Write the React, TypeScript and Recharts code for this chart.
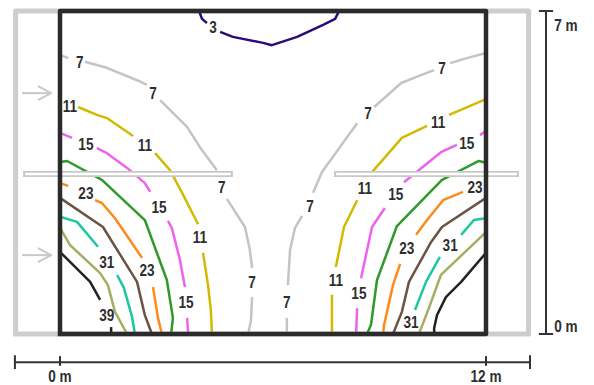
import { ScatterChart, Scatter, XAxis, YAxis } from "recharts";

type Seg = number[][];

// contour lines in metres [x, y]; each line is split where its value label sits
const c3: Seg[] = [
  [[3.92, 7.0], [4.0, 6.83], [4.14, 6.74]],
  [[4.51, 6.55], [4.87, 6.44], [5.72, 6.31], [5.97, 6.26], [6.68, 6.44], [7.41, 6.7], [7.75, 6.83], [7.86, 7.0]],
];
const c7: Seg[] = [
  [[0, 6.05], [0.23, 5.98]],
  [[0.7, 5.9], [1.32, 5.77], [2.17, 5.5], [2.45, 5.4]],
  [[2.82, 5.07], [3.58, 4.49], [3.94, 4.05], [4.42, 3.55]],
  [[4.7, 2.93], [4.85, 2.75], [5.21, 2.32], [5.35, 1.82], [5.41, 1.43]],
  [[5.41, 0.8], [5.38, 0.3], [5.3, 0]],
  [[12, 6.09], [11.46, 5.98], [10.99, 5.87]],
  [[10.54, 5.72], [10.17, 5.61], [9.61, 5.44], [8.85, 4.92]],
  [[8.37, 4.57], [7.38, 3.51], [7.13, 3.06]],
  [[6.82, 2.56], [6.62, 2.3], [6.48, 1.82], [6.42, 1.06]],
  [[6.39, 0.35], [6.39, 0]],
];
const c11: Seg[] = [
  [[0.51, 4.92], [1.04, 4.75], [1.32, 4.68], [2.06, 4.29]],
  [[2.68, 3.92], [3.1, 3.55], [3.44, 3.06], [3.89, 2.38]],
  [[4.03, 1.76], [4.17, 1.06], [4.25, 0.52], [4.28, 0]],
  [[12, 5.09], [10.96, 4.75]],
  [[10.34, 4.51], [9.63, 4.25], [8.79, 3.51]],
  [[8.37, 2.9], [8.0, 2.32], [7.77, 1.45]],
  [[7.66, 0.85], [7.66, 0]],
];
const c15: Seg[] = [
  [[0, 4.36], [0.34, 4.25]],
  [[1.04, 4.03], [1.32, 3.92], [1.89, 3.6], [2.39, 3.27], [2.54, 3.08]],
  [[3.04, 2.45], [3.15, 2.3], [3.38, 1.6], [3.52, 1.02]],
  [[3.58, 0.35], [3.61, 0]],
  [[12, 4.4], [11.83, 4.31]],
  [[11.18, 4.1], [10.73, 3.94], [9.69, 3.29]],
  [[9.15, 2.73], [8.79, 2.32], [8.48, 1.21]],
  [[8.37, 0.56], [8.34, 0]],
];
const c19: Seg[] = [
  [[0, 3.73], [0.2, 3.75], [1.18, 3.34], [2.39, 2.47], [3.01, 1.17], [3.18, 0.35], [3.13, 0]],
  [[12, 3.71], [11.8, 3.75], [10.76, 3.34], [9.49, 2.34], [8.93, 1.17], [8.76, 0.2], [8.65, 0]],
];
const c23: Seg[] = [
  [[0, 3.27], [0.23, 3.21]],
  [[0.99, 2.9], [1.18, 2.84], [1.55, 2.51], [2.31, 1.65]],
  [[2.62, 1.02], [2.76, 0.35], [2.87, 0]],
  [[11.35, 3.08], [10.79, 2.9], [10.34, 2.47], [10.03, 2.15]],
  [[9.58, 1.52], [9.38, 1.06], [9.13, 0.2], [9.1, 0]],
];
const c27: Seg[] = [
  [[0, 2.95], [1.21, 2.32], [2.17, 1.13], [2.39, 0.41], [2.59, 0]],
  [[12, 2.95], [10.76, 2.32], [10.45, 1.99], [9.83, 1.13], [9.63, 0.48], [9.38, 0]],
];
const c31: Seg[] = [
  [[0, 2.54], [0.48, 2.43], [1.07, 1.89]],
  [[1.61, 1.28], [1.8, 1.0], [2.03, 0.37], [2.11, 0]],
  [[12, 2.51], [11.66, 2.47], [11.3, 2.15]],
  [[10.7, 1.67], [10.31, 1.13], [10.0, 0.52]],
];
const c35: Seg[] = [
  [[0, 2.3], [0.28, 1.93], [1.13, 1.32], [1.35, 1.06], [1.55, 0.48], [1.89, 0]],
  [[12, 2.21], [10.73, 1.28], [10.39, 0.56], [10.11, 0]],
];
const c39: Seg[] = [
  [[0, 1.78], [0.85, 1.13], [1.13, 0.74]],
  [[1.44, 0.15], [1.44, 0]],
  [[12, 1.76], [11.3, 1.13], [10.87, 0.8], [10.62, 0.41], [10.54, 0.13], [10.54, 0]],
];

const levels = [3, 7, 11, 15, 19, 23, 27, 31, 35, 39];
const levelLines = [c3, c7, c11, c15, c19, c23, c27, c31, c35, c39];
const levelColors = [
  "#2d0a78", "#c4c4c4", "#d2ba00", "#ee62ee", "#2e9a2a",
  "#ff8a1c", "#6a5443", "#1cc8a0", "#a7ad62", "#222222",
];

// value labels on the lines: [x, y, level]
const valueLabels = [
  [4.31, 6.65, 3],
  [0.56, 5.9, 7], [2.62, 5.22, 7], [4.56, 3.19, 7], [5.41, 1.13, 7],
  [10.76, 5.77, 7], [8.68, 4.79, 7], [7.04, 2.77, 7], [6.39, 0.69, 7],
  [0.28, 4.94, 11], [2.39, 4.1, 11], [3.94, 2.1, 11],
  [10.65, 4.59, 11], [8.59, 3.16, 11], [7.77, 1.17, 11],
  [0.73, 4.12, 15], [2.79, 2.75, 15], [3.55, 0.69, 15],
  [11.46, 4.14, 15], [9.46, 3.03, 15], [8.42, 0.89, 15],
  [0.73, 3.06, 23], [2.45, 1.39, 23], [11.69, 3.19, 23], [9.77, 1.86, 23],
  [1.32, 1.56, 31], [10.99, 1.93, 31], [9.89, 0.26, 31],
  [1.32, 0.41, 39],
];

// room drawing (metres)
const roomW = 12;
const roomH = 7;
const outerWall: Seg = [[-1.25, 0], [-1.25, 7], [13.2, 7], [13.2, 0], [-1.25, 0]];
const innerWall: Seg = [[0, 0], [0, 7], [12, 7], [12, 0], [0, 0]];
const shelves: Seg[] = [
  [[-1.04, 3.47], [4.87, 3.47]],
  [[7.72, 3.47], [12.93, 3.47]],
];
const arrowY = [5.22, 1.71];

const scaleBars: Seg[] = [
  [[-1.27, -0.61], [13.24, -0.61]],
  [[-1.27, -0.46], [-1.27, -0.76]],
  [[13.24, -0.46], [13.24, -0.76]],
  [[0, -0.48], [0, -0.69]],
  [[12, -0.48], [12, -0.69]],
  [[13.69, 0], [13.69, 7]],
  [[13.49, 7], [13.89, 7]],
  [[13.49, 0], [13.89, 0]],
];
const scaleLabels = [
  { x: 0, y: -0.91, text: "0 m", anchor: "middle" },
  { x: roomW, y: -0.91, text: "12 m", anchor: "middle" },
  { x: 13.92, y: 6.7, text: `${roomH} m`, anchor: "start" },
  { x: 13.92, y: 0.17, text: "0 m", anchor: "start" },
];

const FONT = "'Liberation Sans', Arial, sans-serif";

const pts = (s: Seg) => s.map(([x, y]) => ({ x, y }));
const noDot = () => <g />;

// bold condensed look: Liberation Sans Bold squeezed horizontally
const TextShape = (props: any) => (
  <g transform={`translate(${props.cx},${props.cy}) scale(0.8,1)`}>
    <text
      x={0}
      y={0}
      textAnchor={props.payload.anchor || "middle"}
      dominantBaseline="central"
      fontFamily={FONT}
      fontWeight="bold"
      fontSize={17}
      fill="#2e2e2e"
    >
      {props.payload.text}
    </text>
  </g>
);

function poly(key: string, s: Seg, stroke: string, width: number, cap = "butt") {
  return (
    <Scatter
      key={key}
      data={pts(s)}
      line={{ stroke, strokeWidth: width, strokeLinejoin: "round", strokeLinecap: cap }}
      lineType="joint"
      shape={noDot}
      isAnimationActive={false}
    />
  );
}

export default function App() {
  const arrows: Seg[] = arrowY.flatMap((y) => [
    [[-1.07, y], [-0.25, y]],
    [[-0.62, y + 0.15], [-0.25, y], [-0.62, y - 0.15]],
  ]);

  return (
    <div style={{ position: "absolute", left: 0, top: 0, background: "#fff" }}>
      <ScatterChart width={594} height={385} margin={{ top: 0, right: 0, bottom: 0, left: 0 }}>
        <XAxis type="number" dataKey="x" domain={[-1.69, 15.042]} allowDataOverflow hide />
        <YAxis type="number" dataKey="y" domain={[-1.105, 7.239]} allowDataOverflow hide />

        {poly("outer", outerWall, "#cdcdcd", 5, "square")}
        {arrows.map((a, i) => poly(`arrow${i}`, a, "#c8c8c8", 2))}

        {levelLines.flatMap((segs, li) =>
          segs.map((s, si) => poly(`c${levels[li]}-${si}`, s, levelColors[li], 2.5))
        )}

        {shelves.map((s, i) => poly(`shelfA${i}`, s, "#c8c8c8", 6))}
        {shelves.map((s, i) =>
          poly(`shelfB${i}`, [[s[0][0] + 0.06, s[0][1]], [s[1][0] - 0.06, s[1][1]]], "#ffffff", 2.5)
        )}

        {poly("inner", innerWall, "#2b2b2b", 4.5, "square")}
        {scaleBars.map((s, i) => poly(`scale${i}`, s, "#333333", 2))}

        <Scatter
          data={valueLabels.map(([x, y, v]) => ({ x, y, text: String(v) }))}
          shape={TextShape}
          isAnimationActive={false}
        />
        <Scatter data={scaleLabels} shape={TextShape} isAnimationActive={false} />
      </ScatterChart>
    </div>
  );
}
